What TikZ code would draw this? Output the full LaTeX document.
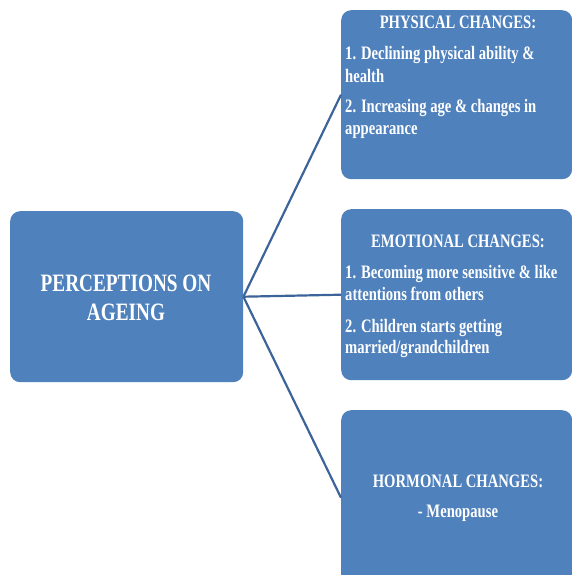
\documentclass[tikz,border=0pt]{standalone}
\usepackage{fontspec}
\setmainfont{Liberation Serif}[FakeStretch=0.77]
\definecolor{boxblue}{RGB}{79,129,189}
\definecolor{lineblue}{RGB}{60,100,155}
\begin{document}
\begin{tikzpicture}[x=1pt,y=-1pt,
  box/.style={fill=boxblue, rounded corners=10pt, draw=none, inner sep=0pt, anchor=north west},
  txt/.style={text=white, font=\bfseries\fontsize{19}{22}\selectfont, inner sep=0pt},
  ttl/.style={text=white, font=\bfseries\fontsize{25}{29}\selectfont, inner sep=0pt, anchor=base},
  conn/.style={draw=lineblue, line width=2.2pt}]
\useasboundingbox (0,0) rectangle (572,575);
\clip (0,0) rectangle (572,575);
% boxes
\node[box, minimum width=233pt, minimum height=171pt] (main) at (10,211) {};
\node[box, minimum width=231pt, minimum height=169pt] (phys) at (341,10) {};
\node[box, minimum width=231pt, minimum height=171pt] (emo) at (341,209) {};
\node[box, minimum width=231pt, minimum height=175pt] (horm) at (341,410) {};
% connectors
\draw[conn] (main.east) -- (phys.west);
\draw[conn] (main.east) -- (emo.west);
\draw[conn] (main.east) -- (horm.west);
% main text
\node[ttl] (m1) at (126,291) {PERCEPTIONS ON};
\node[ttl] (m2) at (126,320) {AGEING};
% physical
\node[txt, anchor=base] (pt) at (458,29) {PHYSICAL CHANGES:};
\node[txt, anchor=base west] (pa) at (345,60) {1. Declining physical ability \&};
\node[txt, anchor=base west] (pb) at (345,83) {health};
\node[txt, anchor=base west] (pc) at (345,113) {2. Increasing age \& changes in};
\node[txt, anchor=base west] (pd) at (345,134) {appearance};
% emotional
\node[txt, anchor=base] (et) at (458,247) {EMOTIONAL CHANGES:};
\node[txt, anchor=base west] (ea) at (345,278) {1. Becoming more sensitive \& like};
\node[txt, anchor=base west] (eb) at (345,300) {attentions from others};
\node[txt, anchor=base west] (ec) at (345,332) {2. Children starts getting};
\node[txt, anchor=base west] (ed) at (345,353) {married/grandchildren};
% hormonal
\node[txt, anchor=base] (ht) at (458,487) {HORMONAL CHANGES:};
\node[txt, anchor=base] (hm) at (458,517) {- Menopause};
\end{tikzpicture}
\end{document}
